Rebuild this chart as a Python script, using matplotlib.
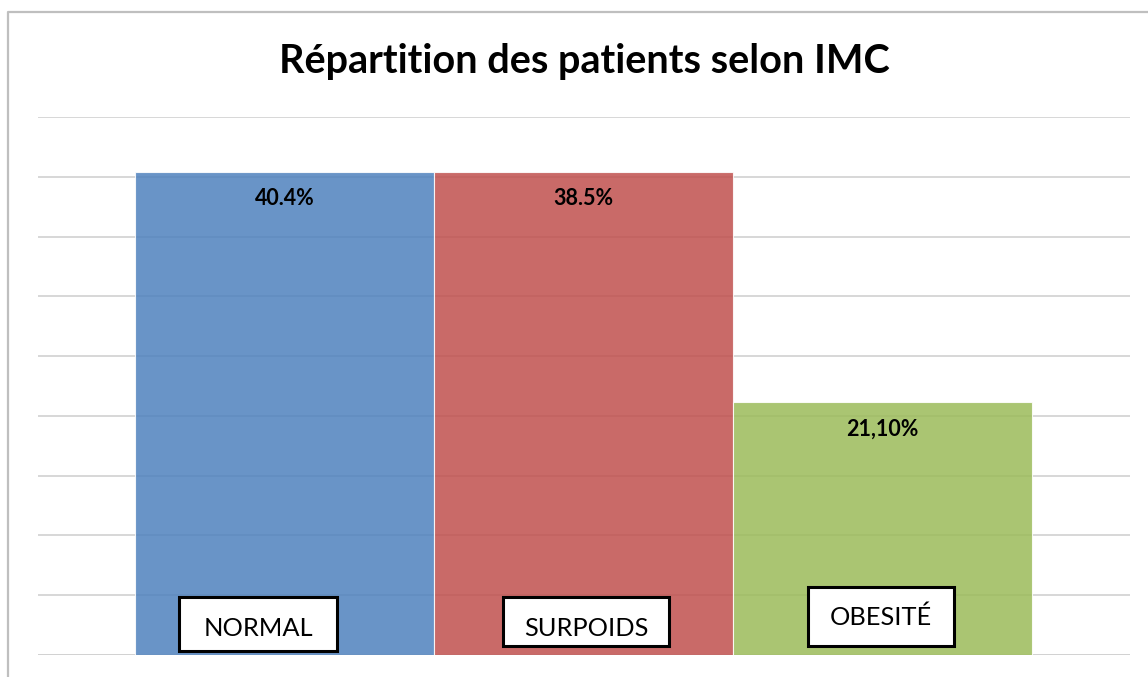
import matplotlib
matplotlib.use("Agg")
import matplotlib.pyplot as plt
from matplotlib.lines import Line2D
from matplotlib.patches import Rectangle

categories = ["NORMAL", "SURPOIDS", "OBESITÉ"]
heights = [40.4, 40.4, 21.15]
value_labels = ["40.4%", "38.5%", "21,10%"]
colors = ["#4F81BD", "#C0504D", "#9BBB59"]
title = "Répartition des patients selon IMC"

W, H = 1148, 677
fig = plt.figure(figsize=(W / 100, H / 100), dpi=100)
plt.rcParams['font.family'] = ['Lato', 'DejaVu Sans']

def fx(px):
    return px / W

def fy(py):
    return 1 - py / H

ax = fig.add_axes([fx(38), fy(655), fx(1130) - fx(38), fy(117) - fy(655)])
ax.set_ylim(0, 45)
ax.set_xlim(-0.5 - 0.324, 2.5 + 0.327)
ax.set_yticks(range(0, 46, 5))
ax.yaxis.grid(True, color="#D4D4D4", linewidth=1.3)
ax.set_axisbelow(True)
ax.tick_params(left=False, bottom=False, labelleft=False, labelbottom=False)
for s in ax.spines.values():
    s.set_visible(False)

x = list(range(len(categories)))
bars = ax.bar(x, heights, width=1.0, color=colors, alpha=0.85,
              edgecolor="white", linewidth=0.8)
for xi, h, lab in zip(x, heights, value_labels):
    ax.annotate(lab, (xi, h), xytext=(0, -27), textcoords="offset pixels",
                ha="center", va="center", fontsize=15.5, fontweight="bold",
                color="black")

# baseline
ax.axhline(0, color="#BDBDBD", linewidth=1.3, zorder=0)

# category text boxes (manually placed in original)
boxes = [(179, 597, 337, 651, 628), (503, 597, 669, 646, 628), (808, 587, 954, 646, 617)]
for (x0, y0, x1, y1, ty), cat in zip(boxes, categories):
    fig.patches.append(Rectangle((fx(x0), fy(y1)), fx(x1) - fx(x0), fy(y0) - fy(y1),
                                 transform=fig.transFigure, facecolor="white",
                                 edgecolor="black", linewidth=2.2, zorder=5))
    fig.text(fx((x0 + x1) / 2), fy(ty), cat, ha="center", va="center",
             fontsize=18.3, color="black", zorder=6)

# title
fig.text(fx(584), fy(61), title, ha="center", va="center",
         fontsize=28.5, fontweight="bold", color="black")

# outer chart border
fig.lines.append(Line2D([fx(8), fx(8), fx(1148)], [fy(677), fy(12), fy(12)],
                        transform=fig.transFigure, color="#BFBFBF", linewidth=1.6))

fig.savefig("out.png", dpi=100)
